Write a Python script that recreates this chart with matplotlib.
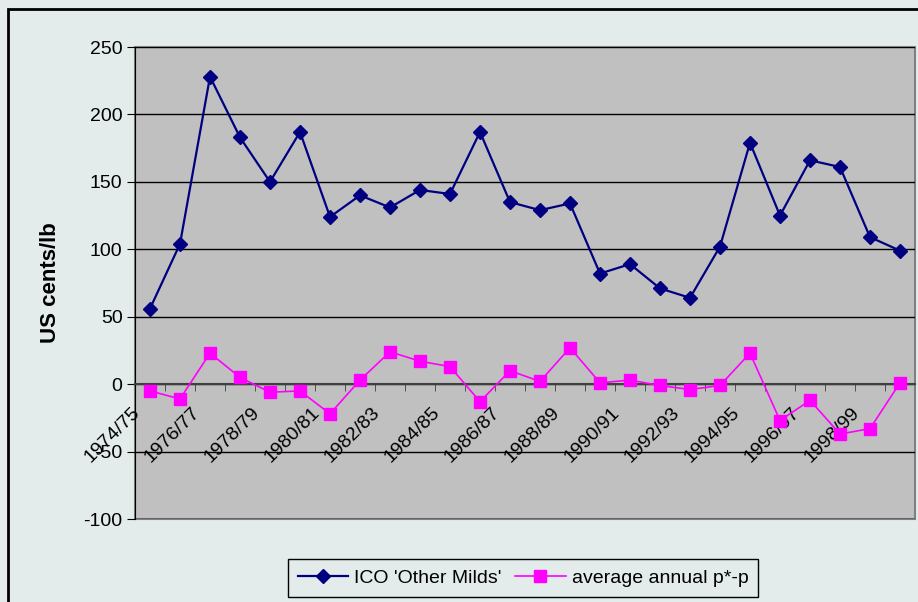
import matplotlib.pyplot as plt
from matplotlib.patches import Rectangle
from matplotlib.transforms import ScaledTranslation

plt.rcParams['font.family'] = ['Liberation Sans', 'DejaVu Sans']
plt.rcParams['axes.unicode_minus'] = False

seasons = ['1974/75', '1975/76', '1976/77', '1977/78', '1978/79', '1979/80',
           '1980/81', '1981/82', '1982/83', '1983/84', '1984/85', '1985/86',
           '1986/87', '1987/88', '1988/89', '1989/90', '1990/91', '1991/92',
           '1992/93', '1993/94', '1994/95', '1995/96', '1996/97', '1997/98',
           '1998/99', '1999/00']
other_milds = [56, 104, 228, 183, 150, 187, 124, 140, 131, 144, 141, 187,
               135, 129, 134, 82, 89, 71, 64, 102, 179, 125, 166, 161, 109, 99]
p_star_minus_p = [-5, -11, 23, 5, -6, -5, -22, 3, 24, 17, 13, -13,
                  10, 2, 27, 1, 3, -1, -4, -1, 23, -27, -12, -37, -33, 1]

bg = '#E3EBEB'
fig = plt.figure(figsize=(9.18, 6.02), dpi=100, facecolor=bg)

# chart border
fig.patches.append(Rectangle((8 / 918, -0.05), 1.0, 1 - 9 / 602 + 0.05,
                             transform=fig.transFigure, fill=False,
                             edgecolor='black', linewidth=2))

ax = fig.add_axes([135 / 918, 1 - 519 / 602, 780 / 918, 472 / 602])
ax.set_facecolor('#C0C0C0')
ax.patch.set_edgecolor('#808080')
ax.patch.set_linewidth(1.5)

x = list(range(len(seasons)))
ax.plot(x, other_milds, color='#000080', lw=1.6, marker='D', ms=7,
        label="ICO 'Other Milds'", zorder=4)
ax.plot(x, p_star_minus_p, color='#FF00FF', lw=1.2, marker='s', ms=8,
        label='average annual p*-p', zorder=4)

ax.set_xlim(-0.5, len(seasons) - 0.5)
ax.set_ylim(-100, 250)
ax.set_yticks(range(-100, 251, 50))
ax.yaxis.grid(True, color='black', lw=1)
ax.set_axisbelow(True)

for s in ['top', 'right']:
    ax.spines[s].set_visible(False)
ax.spines['left'].set_color('black')
ax.spines['bottom'].set_position(('data', 0))
ax.spines['bottom'].set_color('#404040')
ax.spines['bottom'].set_linewidth(1.5)

ax.tick_params(axis='y', direction='out', length=6, labelsize=14, pad=3)
ax.set_xticks([i + 0.5 for i in x[:-1]], minor=True)
ax.set_xticks(x[::2])
ax.set_xticklabels(seasons[::2], rotation=45, ha='right', va='top',
                   rotation_mode='anchor', fontsize=14)
ax.tick_params(axis='x', which='major', length=0, pad=2)
ax.tick_params(axis='x', which='minor', direction='out', length=5,
               color='#404040')
off = ScaledTranslation(-0.19, -0.17, fig.dpi_scale_trans)
for lab in ax.get_xticklabels():
    lab.set_transform(lab.get_transform() + off)

ax.set_ylabel('US cents/lb', fontsize=16, fontweight='bold', labelpad=16)

leg = fig.legend(loc='center', bbox_to_anchor=(523 / 918, 1 - 578 / 602),
                 ncol=2, fontsize=14, frameon=True, fancybox=False,
                 handlelength=2.6, columnspacing=0.7, handletextpad=0.3,
                 borderpad=0.5, borderaxespad=0)
leg.get_frame().set_edgecolor('black')
leg.get_frame().set_facecolor(bg)
leg.get_frame().set_alpha(1)

fig.savefig('out.png', dpi=100, facecolor=bg)
